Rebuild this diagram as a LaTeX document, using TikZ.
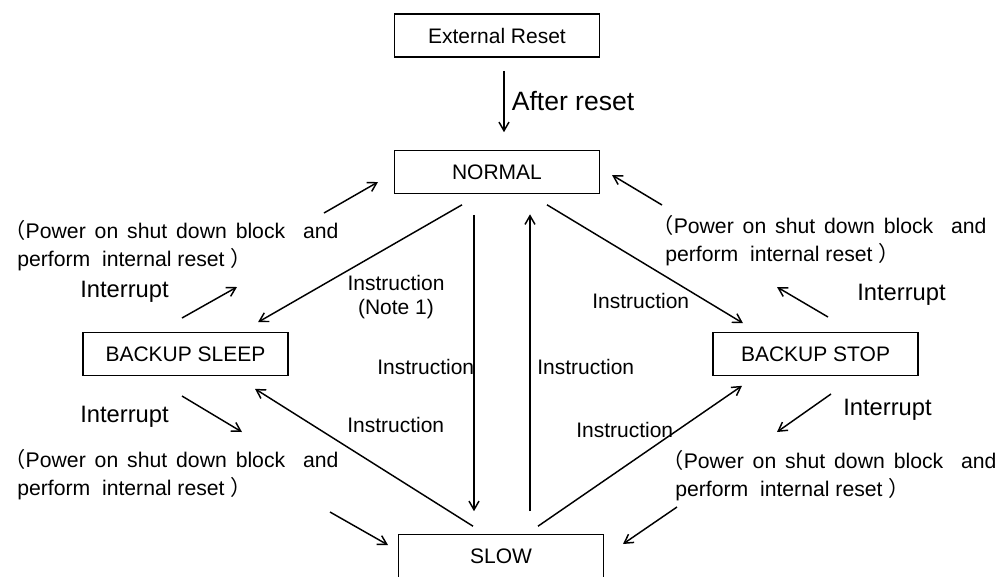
\documentclass[tikz,border=0pt]{standalone}
\usepackage{fontspec}
\setmainfont{Liberation Sans}
\newfontfamily\cjk{Noto Sans CJK SC}
\usetikzlibrary{arrows.meta,calc}

\newcommand{\wsp}{\hspace{0.42em}}
\newcommand{\pwrnote}{\hspace*{-0.6em}{\cjk （}Power\wsp on\wsp shut\wsp down\wsp block\wsp\wsp and\\perform\ \ internal reset\ {\cjk ）}}

\begin{document}
\begin{tikzpicture}[
  x=0.75pt,y=-0.75pt,
  state/.style={rectangle,draw,line width=1.2pt,minimum width=153.75pt,
                minimum height=32.25pt,inner sep=0pt,
                font=\fontsize{15.75}{18}\selectfont},
  arr/.style={-{Straight Barb[length=6.5pt,width=7.5pt]},line width=1.1pt},
  lbl/.style={font=\fontsize{15.75}{18}\selectfont,inner sep=0pt},
  intr/.style={font=\fontsize{17.8}{21}\selectfont,inner sep=0pt,anchor=west},
  note/.style={font=\fontsize{15.9}{21}\selectfont,inner sep=0pt,
               anchor=west,align=left}
]
\useasboundingbox (0,0) rectangle (1000,576);

% --- states
\node[state] (reset)  at (497,35.5)  {External Reset};
\node[state] (normal) at (497,172)   {NORMAL};
\node[state] (sleep)  at (185.5,354) {BACKUP SLEEP};
\node[state] (stop)   at (815.5,354) {BACKUP STOP};
\node[state] (slow)   at (501,556)   {SLOW};

% --- transitions
\draw[arr] ($(reset.south)+(7,13)$) -- node[right,xshift=2pt,
  font=\fontsize{19.9}{22}\selectfont]{After reset} ($(normal.north)+(7,-17.5)$);
\draw[arr] ($(normal.south)+(-35,10.5)$) -- ($(sleep.north)+(72.5,-9.5)$);
\draw[arr] ($(normal.south)+(-23,20.5)$) -- ($(slow.north)+(-27,-22.5)$);
\draw[arr] ($(slow.north)+(29,-22.5)$) -- ($(normal.south)+(33,20)$);
\draw[arr] ($(slow.north)+(-28,-7.5)$) -- ($(sleep.south)+(69.5,12.5)$);
\draw[arr] ($(slow.north)+(37,-7.5)$) -- ($(stop.south)+(-73.5,9.5)$);
\draw[arr] ($(normal.south)+(50,10.5)$) -- ($(stop.north)+(-72.5,-8.5)$);

\node[lbl,align=center] (ins1) at (396,297) {Instruction\\(Note 1)};
\node[lbl,anchor=west] (ins2) at (377,367) {Instruction};
\node[lbl,anchor=west] (ins3) at (537,367) {Instruction};
\node[lbl,anchor=west] (ins4) at (347,425) {Instruction};
\node[lbl,anchor=west] (ins5) at (592,301) {Instruction};
\node[lbl,anchor=west] (ins6) at (576,430) {Instruction};

% --- interrupts, left side
\coordinate (la1) at (182,318); \coordinate (lb1) at (237,287);
\coordinate (la2) at (324,213); \coordinate (lb2) at (378,182);
\coordinate (la3) at (182,396); \coordinate (lb3) at (242,432);
\coordinate (la4) at (330,512); \coordinate (lb4) at (388,545);
\draw[arr] (la1) -- (lb1);
\draw[arr] (la2) -- (lb2);
\draw[arr] (la3) -- (lb3);
\draw[arr] (la4) -- (lb4);
\node[intr] (intl1) at (80,292) {Interrupt};
\node[intr] (intl2) at (80,417) {Interrupt};
\node[note] (notel1) at (17,246) {\pwrnote};
\node[note] (notel2) at (17,475) {\pwrnote};

% --- interrupts, right side
\coordinate (ra1) at (662,205); \coordinate (rb1) at (612,175);
\coordinate (ra2) at (828,317); \coordinate (rb2) at (777,287);
\coordinate (ra3) at (831,394); \coordinate (rb3) at (777,432);
\coordinate (ra4) at (677,507); \coordinate (rb4) at (623,544);
\draw[arr] (ra1) -- (rb1);
\draw[arr] (ra2) -- (rb2);
\draw[arr] (ra3) -- (rb3);
\draw[arr] (ra4) -- (rb4);
\node[intr] (intr1) at (857,295) {Interrupt};
\node[intr] (intr2) at (843,410) {Interrupt};
\node[note] (noter1) at (665,240.5) {\pwrnote};
\node[note] (noter2) at (675,476) {\pwrnote};
\end{tikzpicture}
\end{document}
